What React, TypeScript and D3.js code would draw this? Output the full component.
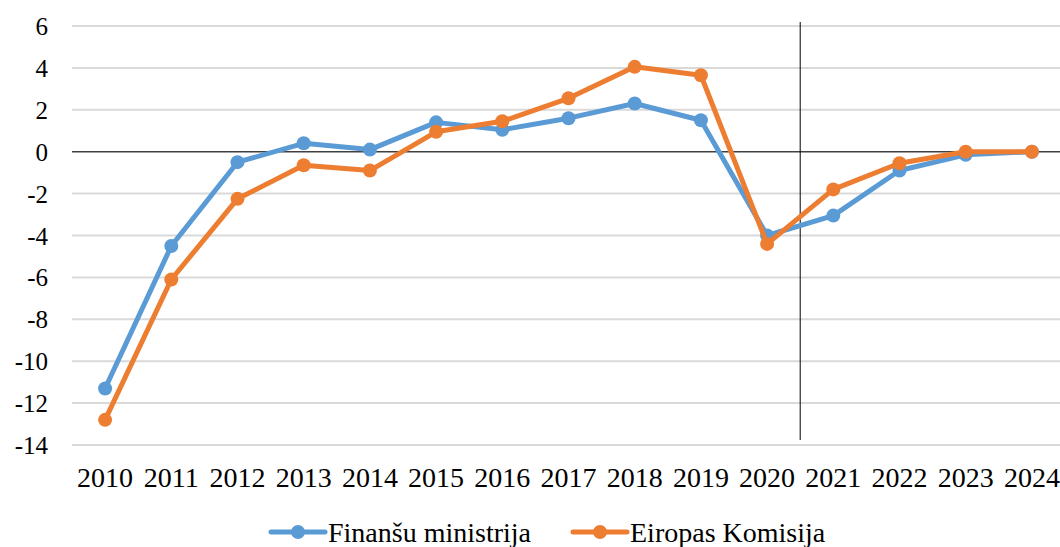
import React from 'react';
import { scaleBand, scaleLinear, line, range } from 'd3';

const width = 1060;
const height = 547;
const margin = { left: 72, right: -5, top: 26, bottom: 102 };

const years = ['2010', '2011', '2012', '2013', '2014', '2015', '2016', '2017', '2018', '2019', '2020', '2021', '2022', '2023', '2024'];
const finansuMinistrija = [-11.3, -4.5, -0.5, 0.4, 0.1, 1.4, 1.05, 1.6, 2.3, 1.5, -4.0, -3.05, -0.9, -0.15, 0];
const eiropasKomisija = [-12.8, -6.1, -2.25, -0.65, -0.9, 0.95, 1.45, 2.55, 4.05, 3.65, -4.4, -1.8, -0.55, 0, 0];
const yTicks = range(-14, 7, 2);

const series = [
    { name: 'Finanšu ministrija', values: finansuMinistrija, color: '#5B9BD5' },
    { name: 'Eiropas Komisija', values: eiropasKomisija, color: '#ED7D31' },
];

const serif = '"Liberation Serif", "Times New Roman", serif';

const App = () => {
    const x = scaleBand().domain(years).range([margin.left, width - margin.right]);
    const y = scaleLinear().domain([-14, 6]).range([height - margin.bottom, margin.top]);
    const cx = (d: string) => (x(d) as number) + x.bandwidth() / 2;

    const path = line<number>()
        .x((_, i) => cx(years[i]))
        .y(d => y(d));

    // divider between 2020 and 2021 (forecast)
    const splitX = x('2021') as number;

    return (
        <svg width={width} height={height} style={{ position: 'absolute', left: 0, top: 0, background: '#fff' }}>
            {yTicks.map(t => (
                <g key={t}>
                    <line x1={margin.left} x2={width} y1={y(t)} y2={y(t)}
                        stroke={t === 0 ? '#404040' : '#d9d9d9'} strokeWidth={t === 0 ? 1.5 : 2} />
                    <text x={48} y={y(t)} dy="0.36em" textAnchor="end"
                        style={{ fontFamily: serif, fontSize: 25, fill: '#000' }}>{t}</text>
                </g>
            ))}
            <line x1={splitX} x2={splitX} y1={22} y2={440} stroke="#000" strokeWidth={1} />
            {years.map(d => (
                <text key={d} x={cx(d)} y={487} textAnchor="middle"
                    style={{ fontFamily: serif, fontSize: 28, fill: '#000' }}>{d}</text>
            ))}
            {series.map(s => (
                <g key={s.name}>
                    <path d={path(s.values) as string} fill="none" stroke={s.color} strokeWidth={5} strokeLinejoin="round" />
                    {s.values.map((v, i) => (
                        <circle key={i} cx={cx(years[i])} cy={y(v)} r={7} fill={s.color} />
                    ))}
                </g>
            ))}
            {series.map((s, i) => {
                const lx = i === 0 ? 271 : 573;
                return (
                    <g key={s.name} transform={`translate(${lx}, 532)`}>
                        <line x1={0} x2={54} y1={0} y2={0} stroke={s.color} strokeWidth={5} strokeLinecap="round" />
                        <circle cx={27} cy={0} r={7} fill={s.color} />
                        <text x={57} y={10} style={{ fontFamily: serif, fontSize: 28, fill: '#000' }}>{s.name}</text>
                    </g>
                );
            })}
        </svg>
    );
};

export default App;
